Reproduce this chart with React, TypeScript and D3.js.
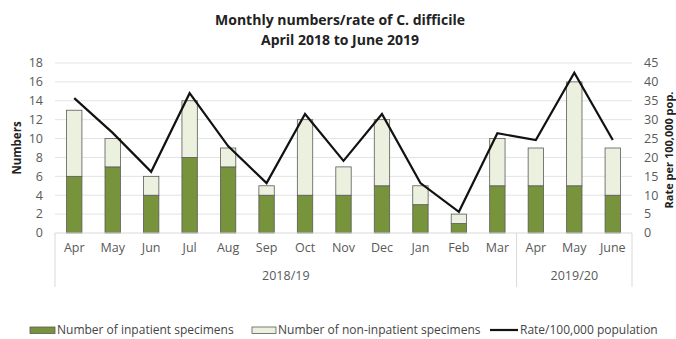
import React from "react";
import * as d3 from "d3";

const months = ["Apr", "May", "Jun", "Jul", "Aug", "Sep", "Oct", "Nov", "Dec", "Jan", "Feb", "Mar", "Apr", "May", "June"];
const years = ["2018/19", "2018/19", "2018/19", "2018/19", "2018/19", "2018/19", "2018/19", "2018/19", "2018/19", "2018/19", "2018/19", "2018/19", "2019/20", "2019/20", "2019/20"];
const inpatient = [6, 7, 4, 8, 7, 4, 4, 4, 5, 3, 1, 5, 5, 5, 4];
const nonInpatient = [7, 3, 2, 6, 2, 1, 8, 3, 7, 2, 1, 5, 4, 11, 5];
const rate = [35.7, 26.5, 16.2, 37.0, 23.0, 13.2, 31.5, 19.1, 31.5, 13.2, 5.6, 26.4, 24.6, 42.4, 24.6];
const leftTicks = [0, 2, 4, 6, 8, 10, 12, 14, 16, 18];
const rightTicks = [0, 5, 10, 15, 20, 25, 30, 35, 40, 45];

const W = 676, H = 339;
const FONT = "Open Sans, Lato, sans-serif";
const L = 55, R = 632, T = 63, B = 233;
const GREEN = "#77933C", LIGHT = "#EBF1DE", EDGE = "#5a5a5a", TXT = "#595959";

export default function App() {
  const idx = months.map((_, i) => i);
  const x = d3.scaleBand<number>().domain(idx).range([L, R]).paddingInner(0.6).paddingOuter(0.3);
  const xc = d3.scaleBand<number>().domain(idx).range([L, R]);
  const yL = d3.scaleLinear().domain([0, 18]).range([B, T]);
  const yR = d3.scaleLinear().domain([0, 45]).range([B, T]);
  const line = d3.line<number>().x((_, i) => xc(i)! + xc.bandwidth() / 2).y((d) => yR(d));

  const groups: { label: string; start: number; end: number }[] = [];
  years.forEach((y, i) => {
    const g = groups[groups.length - 1];
    if (g && g.label === y) g.end = i;
    else groups.push({ label: y, start: i, end: i });
  });

  return (
    <svg width={W} height={H} style={{ position: "absolute", left: 0, top: 0, background: "#fff" }} fontFamily={FONT}>
      <text x={340} y={25} textAnchor="middle" fontSize={14} fontWeight="bold" fill="#222">Monthly numbers/rate of C. difficile</text>
      <text x={340} y={45} textAnchor="middle" fontSize={14} fontWeight="bold" fill="#222">April 2018 to June 2019</text>

      {leftTicks.map((t) => (
        <g key={"g" + t}>
          {t > 0 && <line x1={L} x2={R} y1={yL(t)} y2={yL(t)} stroke="#e3e3e3" strokeWidth={1} />}
          <text x={43} y={yL(t)} dy="0.35em" textAnchor="end" fontSize={12.5} fill={TXT}>{t}</text>
        </g>
      ))}
      {rightTicks.map((t) => (
        <text key={"r" + t} x={644} y={yR(t)} dy="0.35em" textAnchor="start" fontSize={12.5} fill={TXT}>{t}</text>
      ))}

      <text transform={`translate(21,${(T + B) / 2}) rotate(-90)`} textAnchor="middle" fontSize={11.5} fontWeight="bold" fill="#222">Numbers</text>
      <text transform={`translate(673,${(T + B) / 2 + 2}) rotate(-90)`} textAnchor="middle" fontSize={11} fontWeight="bold" fill="#222">Rate per 100,000 pop.</text>

      {idx.map((i) => (
        <g key={"b" + i}>
          <rect x={x(i)} y={yL(inpatient[i])} width={x.bandwidth()} height={B - yL(inpatient[i])} fill={GREEN} stroke={EDGE} strokeWidth={0.8} />
          <rect x={x(i)} y={yL(inpatient[i] + nonInpatient[i])} width={x.bandwidth()} height={yL(inpatient[i]) - yL(inpatient[i] + nonInpatient[i])} fill={LIGHT} stroke={EDGE} strokeWidth={0.8} />
        </g>
      ))}

      <line x1={L} x2={R} y1={B} y2={B} stroke="#d9d9d9" strokeWidth={1} />
      {[...groups.map((g) => g.start), idx.length].map((s, k) => {
        const xx = s < idx.length ? xc(s)! : R;
        return <line key={"s" + k} x1={xx} x2={xx} y1={B} y2={287} stroke="#d9d9d9" strokeWidth={1} />;
      })}
      {idx.map((i) => (
        <text key={"m" + i} x={xc(i)! + xc.bandwidth() / 2} y={252} textAnchor="middle" fontSize={12.5} fill={TXT}>{months[i]}</text>
      ))}
      {groups.map((g) => (
        <text key={"y" + g.start} x={(xc(g.start)! + xc(g.end)! + xc.bandwidth()) / 2} y={280} textAnchor="middle" fontSize={12.5} fill={TXT}>{g.label}</text>
      ))}

      <path d={line(rate) || ""} fill="none" stroke="#111" strokeWidth={2.2} strokeLinejoin="miter" />

      <g fontSize={12} fill={TXT}>
        <rect x={30} y={327} width={25} height={6.5} fill={GREEN} stroke={EDGE} strokeWidth={0.8} />
        <text x={57} y={330} dy="0.35em" fill="#444">Number of inpatient specimens</text>
        <rect x={252} y={327} width={24} height={6.5} fill={LIGHT} stroke={EDGE} strokeWidth={0.8} />
        <text x={278} y={330} dy="0.35em" fill="#444">Number of non-inpatient specimens</text>
        <line x1={490} x2={518} y1={330} y2={330} stroke="#111" strokeWidth={2.2} />
        <text x={520} y={330} dy="0.35em" fill="#444">Rate/100,000 population</text>
      </g>
    </svg>
  );
}
